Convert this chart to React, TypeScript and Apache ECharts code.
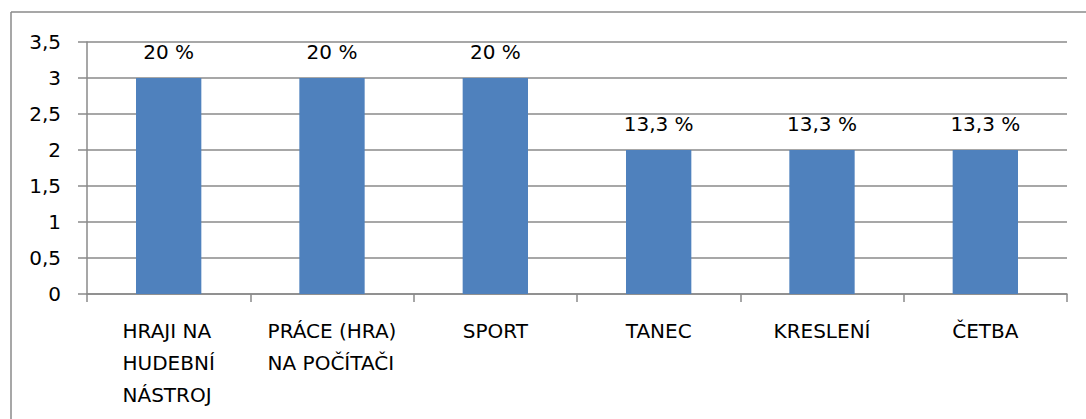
import React, { useEffect, useRef } from "react";
import * as echarts from "echarts";

const categories = [
  "HRAJI NA\nHUDEBNÍ\nNÁSTROJ",
  "PRÁCE (HRA)\nNA POČÍTAČI",
  "SPORT",
  "TANEC",
  "KRESLENÍ",
  "ČETBA",
];
const values = [3, 3, 3, 2, 2, 2];
const percentLabels = ["20 %", "20 %", "20 %", "13,3 %", "13,3 %", "13,3 %"];
const yMin = 0;
const yMax = 3.5;
const yInterval = 0.5;

const FONT = "DejaVu Sans";
const GRAY = "#8a8a8a";
const FS = 20;

export default function App() {
  const ref = useRef<HTMLDivElement>(null);
  useEffect(() => {
    if (!ref.current) return;
    const chart = echarts.init(ref.current, undefined, { renderer: "svg" });
    chart.setOption({
      animation: false,
      backgroundColor: "#ffffff",
      textStyle: { fontFamily: FONT },
      graphic: [
        {
          type: "line",
          shape: { x1: 11, y1: 12, x2: 1086, y2: 12 },
          style: { stroke: GRAY, lineWidth: 1.5 },
        },
        {
          type: "line",
          shape: { x1: 11, y1: 12, x2: 11, y2: 419 },
          style: { stroke: GRAY, lineWidth: 1.5 },
        },
      ],
      grid: { left: 87, right: 19, top: 42, bottom: 125, containLabel: false },
      xAxis: {
        type: "category",
        data: categories,
        boundaryGap: true,
        axisLine: { show: true, lineStyle: { color: GRAY, width: 1.5 } },
        axisTick: {
          show: true,
          length: 8,
          alignWithLabel: false,
          lineStyle: { color: GRAY, width: 1.5 },
        },
        axisLabel: {
          interval: 0,
          margin: 21,
          align: "center",
          formatter: (v: string) =>
            v
              .split("\n")
              .map((l) => `{a|${l}}`)
              .join("\n"),
          rich: {
            a: {
              align: "left",
              fontFamily: FONT,
              fontSize: FS,
              lineHeight: 32,
              color: "#000000",
            },
          },
        },
      },
      yAxis: {
        type: "value",
        min: yMin,
        max: yMax,
        interval: yInterval,
        axisLine: { show: true, lineStyle: { color: GRAY, width: 1.5 } },
        axisTick: {
          show: true,
          length: 9,
          lineStyle: { color: GRAY, width: 1.5 },
        },
        splitLine: { show: true, lineStyle: { color: GRAY, width: 1.5 } },
        axisLabel: {
          margin: 26,
          fontFamily: FONT,
          fontSize: FS,
          color: "#000000",
          formatter: (v: number) => String(v).replace(".", ","),
        },
      },
      series: [
        {
          type: "bar",
          data: values,
          barWidth: "40%",
          itemStyle: { color: "#4f81bd" },
          label: {
            show: true,
            position: "top",
            distance: 16,
            fontFamily: FONT,
            fontSize: FS,
            color: "#000000",
            formatter: (p: any) => percentLabels[p.dataIndex],
          },
        },
      ],
    });
    return () => chart.dispose();
  }, []);
  return (
    <div
      ref={ref}
      style={{ position: "absolute", left: 0, top: 0, width: 1086, height: 419 }}
    />
  );
}
